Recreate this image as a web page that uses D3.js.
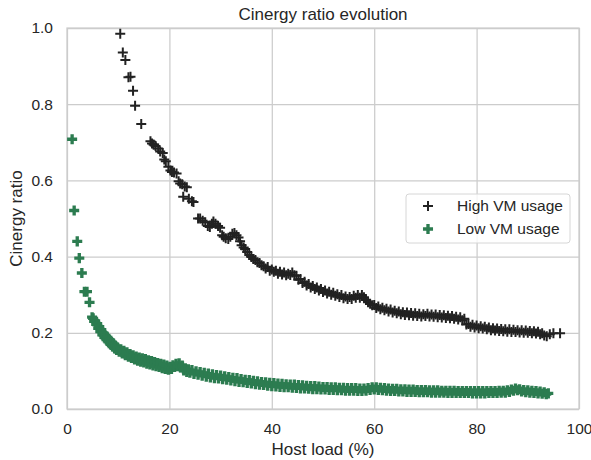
<!DOCTYPE html>
<html lang="en">
<head>
  <meta charset="UTF-8">
  <title>Cinergy ratio evolution</title>
  <script src="https://d3js.org/d3.v7.min.js"></script>
  <style>
    body { margin: 0; background: #fff; }
    text { font-family: Arial, "Liberation Sans", sans-serif; fill: #262626; }
  </style>
</head>
<body>
<div class="main"></div>
<script>
  // [host load %, cinergy ratio]
  const highUsage = [
    [10.4,.985],[10.9,.936],[11.4,.916],[12.0,.871],[12.4,.872],[12.9,.835],[13.3,.796],[14.5,.748],
    [16.3,.703],[16.6,.697],[16.9,.694],[17.3,.690],[17.8,.684],[18.2,.676],[18.7,.672],[19.0,.655],
    [19.3,.650],[19.8,.636],[20.2,.626],[20.5,.622],[20.9,.621],[21.4,.618],[21.8,.598],[22.1,.592],
    [22.5,.590],[22.7,.557],[23.0,.584],[23.4,.582],[23.8,.552],[24.4,.545],[24.7,.543],[25.6,.500],
    [26.0,.500],[26.5,.494],[27.0,.490],[27.5,.480],[27.9,.478],[28.3,.486],[28.6,.492],[29.0,.486],
    [29.5,.480],[29.9,.476],[30.3,.456],[30.6,.452],[31.0,.448],[31.5,.446],[31.9,.452],[32.3,.460],
    [32.7,.462],[33.1,.456],[33.5,.450],[33.8,.440],[34.1,.430],[34.5,.424],[34.8,.420],[35.2,.412],
    [35.6,.404],[36.0,.399],[36.4,.394],[36.8,.391],[37.2,.385],[37.6,.383],[38.0,.377],[38.4,.375],
    [38.8,.369],[39.2,.373],[39.6,.363],[40.0,.366],[40.4,.360],[40.8,.363],[41.2,.355],[41.6,.360],
    [42.0,.353],[42.4,.358],[42.8,.351],[43.2,.355],[43.6,.352],[44.0,.358],[44.4,.351],[44.8,.350],
    [45.2,.339],[45.6,.341],[46.0,.331],[46.4,.334],[46.8,.324],[47.2,.328],[47.6,.319],[48.0,.323],
    [48.4,.315],[48.8,.319],[49.2,.311],[49.6,.315],[50.0,.307],[50.4,.311],[50.8,.303],[51.2,.308],
    [51.6,.300],[52.0,.305],[52.4,.297],[52.8,.301],[53.2,.294],[53.6,.299],[54.0,.291],[54.4,.295],
    [54.8,.289],[55.2,.294],[55.6,.289],[56.0,.297],[56.4,.292],[56.8,.299],[57.2,.292],[57.6,.299],
    [58.0,.293],[58.4,.286],[58.8,.280],[59.2,.276],[59.6,.272],[60.0,.273],[60.4,.265],[60.8,.269],
    [61.2,.262],[61.6,.266],[62.0,.259],[62.4,.263],[62.8,.256],[63.2,.261],[63.6,.253],[64.0,.258],
    [64.4,.251],[64.8,.256],[65.2,.249],[65.6,.254],[66.0,.247],[66.4,.253],[66.8,.246],[67.2,.252],
    [67.6,.245],[68.0,.251],[68.4,.244],[68.8,.250],[69.2,.243],[69.6,.249],[70.0,.244],[70.4,.250],
    [70.8,.243],[71.2,.248],[71.6,.242],[72.0,.248],[72.4,.241],[72.8,.247],[73.2,.240],[73.6,.246],
    [74.0,.239],[74.4,.245],[74.8,.238],[75.2,.244],[75.6,.237],[76.0,.242],[76.4,.235],[76.8,.241],
    [77.2,.233],[77.6,.237],[78.0,.222],[78.4,.223],[78.8,.216],[79.2,.221],[79.6,.214],[80.0,.219],
    [80.4,.212],[80.8,.217],[81.2,.211],[81.6,.216],[82.0,.209],[82.4,.214],[82.8,.207],[83.2,.212],
    [83.6,.206],[84.0,.211],[84.4,.205],[84.8,.210],[85.2,.204],[85.6,.209],[86.0,.203],[86.4,.209],
    [86.8,.202],[87.2,.208],[87.6,.202],[88.0,.207],[88.4,.201],[88.8,.207],[89.2,.200],[89.6,.206],
    [90.0,.200],[90.4,.205],[90.8,.199],[91.2,.204],[91.6,.198],[92.0,.203],[92.4,.196],[92.8,.199],
    [93.2,.193],[93.7,.191],[94.3,.196],[95.0,.199],[96.3,.199]
  ];

  const lowUsage = [
    [1.0,.708],[1.4,.521],[2.0,.440],[2.4,.396],[2.9,.357],[3.4,.308],[3.9,.308],[4.4,.280],
    [4.9,.241],[5.1,.238],[5.3,.230],[5.5,.231],[5.7,.222],[5.9,.224],[6.1,.212],[6.3,.216],
    [6.5,.203],[6.7,.208],[6.9,.195],[7.1,.200],[7.3,.188],[7.5,.193],[7.7,.182],[7.9,.188],
    [8.1,.176],[8.3,.182],[8.5,.170],[8.7,.176],[8.9,.164],[9.1,.171],[9.3,.159],[9.5,.165],
    [9.7,.155],[9.9,.161],[10.2,.150],[10.5,.157],[10.8,.146],[11.1,.153],[11.4,.141],[11.7,.149],
    [12.0,.137],[12.3,.144],[12.6,.134],[12.9,.141],[13.2,.130],[13.5,.138],[13.8,.127],[14.1,.135],
    [14.4,.124],[14.7,.133],[15.0,.122],[15.3,.131],[15.6,.119],[15.9,.128],[16.2,.117],[16.5,.126],
    [16.8,.114],[17.1,.123],[17.4,.112],[17.7,.121],[18.0,.110],[18.3,.119],[18.6,.107],[18.9,.117],
    [19.2,.105],[19.5,.114],[19.8,.103],[20.1,.111],[20.4,.105],[20.7,.115],[21.0,.110],[21.3,.119],
    [21.6,.112],[21.9,.120],[22.2,.109],[22.5,.114],[22.8,.101],[23.1,.107],[23.4,.097],[23.7,.104],
    [24.0,.095],[24.4,.102],[24.8,.092],[25.2,.099],[25.6,.090],[26.0,.097],[26.4,.087],[26.8,.095],
    [27.2,.085],[27.6,.093],[28.0,.083],[28.4,.091],[28.8,.081],[29.2,.089],[29.6,.080],[30.0,.088],
    [30.4,.078],[30.8,.086],[31.2,.077],[31.6,.084],[32.0,.075],[32.4,.082],[32.8,.073],[33.2,.081],
    [33.6,.071],[34.0,.079],[34.4,.070],[34.8,.077],[35.2,.068],[35.6,.076],[36.0,.067],[36.4,.074],
    [36.8,.065],[37.2,.073],[37.6,.064],[38.0,.071],[38.4,.063],[38.8,.070],[39.2,.061],[39.6,.069],
    [40.0,.060],[40.4,.068],[40.8,.059],[41.2,.067],[41.6,.058],[42.0,.066],[42.4,.057],[42.8,.065],
    [43.2,.057],[43.6,.064],[44.0,.056],[44.4,.064],[44.8,.055],[45.2,.063],[45.6,.054],[46.0,.062],
    [46.4,.054],[46.8,.061],[47.2,.053],[47.6,.060],[48.0,.052],[48.4,.060],[48.8,.052],[49.2,.059],
    [49.6,.051],[50.0,.058],[50.4,.051],[50.8,.058],[51.2,.050],[51.6,.057],[52.0,.050],[52.4,.057],
    [52.8,.049],[53.2,.056],[53.6,.049],[54.0,.056],[54.4,.048],[54.8,.055],[55.2,.048],[55.6,.055],
    [56.0,.048],[56.4,.055],[56.8,.047],[57.2,.054],[57.6,.047],[58.0,.054],[58.4,.048],[58.8,.055],
    [59.2,.050],[59.6,.057],[60.0,.051],[60.4,.057],[60.8,.050],[61.2,.056],[61.6,.049],[62.0,.055],
    [62.4,.048],[62.8,.054],[63.2,.047],[63.6,.053],[64.0,.047],[64.4,.053],[64.8,.046],[65.2,.052],
    [65.6,.046],[66.0,.052],[66.4,.045],[66.8,.051],[67.2,.045],[67.6,.051],[68.0,.045],[68.4,.050],
    [68.8,.044],[69.2,.050],[69.6,.044],[70.0,.050],[70.4,.044],[70.8,.049],[71.2,.043],[71.6,.049],
    [72.0,.043],[72.4,.049],[72.8,.043],[73.2,.048],[73.6,.043],[74.0,.048],[74.4,.042],[74.8,.048],
    [75.2,.042],[75.6,.048],[76.0,.042],[76.4,.047],[76.8,.042],[77.2,.047],[77.6,.042],[78.0,.047],
    [78.4,.042],[78.8,.047],[79.2,.041],[79.6,.047],[80.0,.041],[80.4,.047],[80.8,.041],[81.2,.047],
    [81.6,.041],[82.0,.047],[82.4,.042],[82.8,.047],[83.2,.042],[83.6,.047],[84.0,.042],[84.4,.048],
    [84.8,.043],[85.2,.048],[85.6,.043],[86.0,.049],[86.4,.045],[86.8,.051],[87.2,.048],[87.6,.054],
    [88.0,.049],[88.4,.052],[88.8,.046],[89.2,.050],[89.6,.044],[90.0,.049],[90.4,.043],[90.8,.048],
    [91.2,.042],[91.6,.047],[92.0,.041],[92.4,.046],[92.8,.040],[93.2,.044],[93.6,.039],[94.0,.041]
  ];

  const seriesNames = ["High VM usage", "Low VM usage"];
  const xTicks = [0, 20, 40, 60, 80, 100];
  const yTicks = [0, 0.2, 0.4, 0.6, 0.8, 1.0];

  let width = 591;
  let height = 460;
  let margin = {top: 28, right: 12, bottom: 51, left: 67};
  let innerW = width - margin.left - margin.right;
  let innerH = height - margin.top - margin.bottom;

  let svg = d3.select(".main").append("svg").attr("width", width).attr("height", height).style("display", "block");
  let g = svg.append("g").attr("transform", `translate(${margin.left},${margin.top})`);

  let x = d3.scaleLinear().domain([0, 100]).range([0, innerW]);
  let y = d3.scaleLinear().domain([0, 1]).range([innerH, 0]);

  // grid
  g.append("g").attr("transform", `translate(0,${innerH})`)
    .call(d3.axisBottom(x).tickValues(xTicks).tickSize(-innerH).tickFormat(""))
    .call(a => a.select(".domain").remove())
    .selectAll("line").style("stroke", "#cccccc").style("stroke-width", 1.25);
  g.append("g")
    .call(d3.axisLeft(y).tickValues(yTicks).tickSize(-innerW).tickFormat(""))
    .call(a => a.select(".domain").remove())
    .selectAll("line").style("stroke", "#cccccc").style("stroke-width", 1.25);

  // frame
  g.append("rect").attr("width", innerW).attr("height", innerH)
    .style("fill", "none").style("stroke", "#cccccc").style("stroke-width", 1.25);

  // tick labels
  let xa = g.append("g").attr("transform", `translate(0,${innerH})`)
    .call(d3.axisBottom(x).tickValues(xTicks).tickSize(0).tickPadding(14).tickFormat(d3.format("d")));
  let ya = g.append("g")
    .call(d3.axisLeft(y).tickValues(yTicks).tickSize(0).tickPadding(14).tickFormat(d3.format(".1f")));
  [xa, ya].forEach(a => {
    a.select(".domain").remove();
    a.selectAll("text").style("font-size", "15.5px").style("fill", "#262626")
      .style("font-family", "Arial, 'Liberation Sans', sans-serif");
  });

  // markers
  let plusPath = "M-5,0H5M0,-5V5";
  g.append("g").selectAll("path").data(highUsage).join("path")
    .attr("transform", d => `translate(${x(d[0])},${y(d[1])})`)
    .attr("d", plusPath)
    .style("stroke", "#222222").style("stroke-width", 2).style("fill", "none");

  let filledPlus = d3.symbol().type(d3.symbolCross).size(56);
  g.append("g").selectAll("path").data(lowUsage).join("path")
    .attr("transform", d => `translate(${x(d[0])},${y(d[1])})`)
    .attr("d", filledPlus)
    .style("fill", "#2c7c50");

  // title and axis labels
  svg.append("text").attr("x", margin.left + innerW / 2).attr("y", 20)
    .attr("text-anchor", "middle").style("font-size", "17px").text("Cinergy ratio evolution");
  svg.append("text").attr("x", margin.left + innerW / 2).attr("y", 455)
    .attr("text-anchor", "middle").style("font-size", "17px").text("Host load (%)");
  svg.append("text").attr("transform", `translate(22,${margin.top + innerH / 2}) rotate(-90)`)
    .attr("text-anchor", "middle").style("font-size", "17px").text("Cinergy ratio");

  // legend
  let lg = svg.append("g").attr("transform", "translate(406,194)");
  lg.append("rect").attr("width", 164).attr("height", 49).attr("rx", 3)
    .style("fill", "#ffffff").style("fill-opacity", 0.8).style("stroke", "#d6d6d6").style("stroke-width", 1);
  lg.append("path").attr("transform", "translate(22,12)").attr("d", plusPath)
    .style("stroke", "#222222").style("stroke-width", 2).style("fill", "none");
  lg.append("path").attr("transform", "translate(22,35)").attr("d", filledPlus).style("fill", "#2c7c50");
  seriesNames.forEach((name, i) => {
    lg.append("text").attr("x", 51).attr("y", 12 + i * 23).attr("dy", "0.35em")
      .style("font-size", "15.5px").text(name);
  });
</script>
</body>
</html>
